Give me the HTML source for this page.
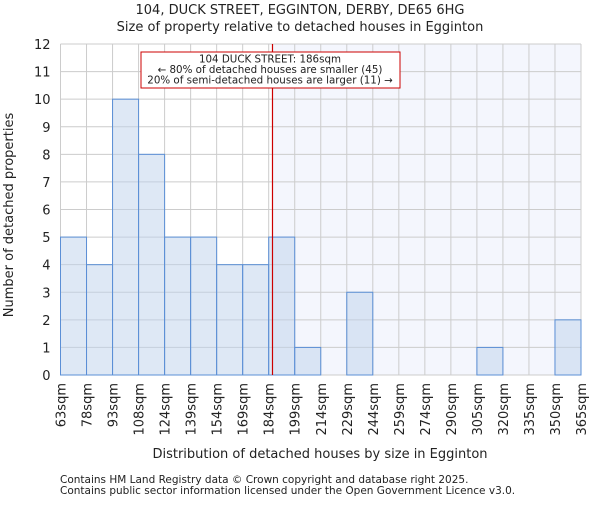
<!DOCTYPE html>
<html><head><meta charset="utf-8"><style>
body{margin:0;background:#fff;font-family:"Liberation Sans","DejaVu Sans",sans-serif}
svg text{font-family:"DejaVu Sans","Liberation Sans",sans-serif;fill:#222}
</style></head><body>
<svg id="chart" width="600" height="500" xmlns="http://www.w3.org/2000/svg">
<text x="300" y="14" text-anchor="middle" font-size="13">104, DUCK STREET, EGGINTON, DERBY, DE65 6HG</text>
<text x="300" y="31" text-anchor="middle" font-size="13">Size of property relative to detached houses in Egginton</text>
<g id="plot"></g>
<text x="320" y="458" text-anchor="middle" font-size="13">Distribution of detached houses by size in Egginton</text>
<text x="13" y="215" text-anchor="middle" font-size="13" transform="rotate(-90 13 215)">Number of detached properties</text>
<text x="60" y="483" font-size="10.5" fill="#444">Contains HM Land Registry data © Crown copyright and database right 2025.</text>
<text x="60" y="494" font-size="10.5" fill="#444">Contains public sector information licensed under the Open Government Licence v3.0.</text>
</svg>
<script>
const binLabels=["63sqm","78sqm","93sqm","108sqm","124sqm","139sqm","154sqm","169sqm","184sqm","199sqm","214sqm","229sqm","244sqm","259sqm","274sqm","290sqm","305sqm","320sqm","335sqm","350sqm","365sqm"];
const counts=[5,4,10,8,5,5,4,4,5,1,0,3,0,0,0,0,1,0,0,2];
const yTicks=[0,1,2,3,4,5,6,7,8,9,10,11,12];
const propertySize=186;
const binStart=63, binEnd=365;
const L=60.5,R=581,T=44,B=375;
const NS="http://www.w3.org/2000/svg";
const g=document.getElementById('plot');
const nb=counts.length;
const xi=i=>L+(R-L)*i/nb;
const xv=v=>L+(R-L)*(v-binStart)/(binEnd-binStart);
const y=v=>B-(B-T)*v/12;
function mk(t,a){const e=document.createElementNS(NS,t);for(const k in a)e.setAttribute(k,a[k]);g.appendChild(e);return e;}
const px=xv(propertySize);
let e=mk('rect',{x:px,y:T,width:R-px,height:B-T,fill:'#f4f6fd'});


for(let i=0;i<=nb;i++){e=mk('line',{x1:xi(i),x2:xi(i),y1:T,y2:B,stroke:'#ccc','stroke-width':1});

}
yTicks.forEach(t=>{e=mk('line',{x1:L,x2:R,y1:y(t),y2:y(t),stroke:'#ccc','stroke-width':1});


e=mk('text',{x:L-10,y:y(t)+5,'text-anchor':'end','font-size':13});e.textContent=t;

});
counts.forEach((c,i)=>{if(c<=0)return;e=mk('rect',{x:xi(i),y:y(c),width:xi(i+1)-xi(i),height:B-y(c),fill:'rgba(190,210,236,0.5)',stroke:'#5b8fd6','stroke-width':1});

});
binLabels.forEach((l,i)=>{const xx=xi(i)+5;e=mk('text',{x:xx,y:383,'text-anchor':'end','font-size':13,transform:`rotate(-90 ${xx} 383)`});e.textContent=l;

});
e=mk('line',{x1:px,x2:px,y1:T,y2:B,stroke:'#cc0000','stroke-width':1.2});


e=mk('rect',{x:141,y:52,width:259,height:36,fill:'#fff',stroke:'#cc0000','stroke-width':1});


["104 DUCK STREET: 186sqm","← 80% of detached houses are smaller (45)","20% of semi-detached houses are larger (11) →"].forEach((s,i)=>{e=mk('text',{x:270,y:62.5+i*10.5,'text-anchor':'middle','font-size':10.3});e.textContent=s;

});
</script>
</body></html>
